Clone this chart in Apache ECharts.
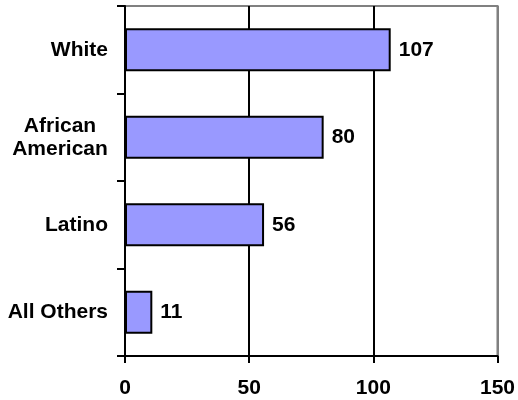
<!DOCTYPE html>
<html>
<head>
<meta charset="utf-8">
<script src="https://cdn.jsdelivr.net/npm/echarts@6/dist/echarts.min.js"></script>
<style>html,body{margin:0;padding:0;background:#fff;}#c{width:518px;height:400px;}</style>
</head>
<body>
<div id="c"></div>
<script>
var categories = ['White', 'African\nAmerican', 'Latino', 'All Others'];
var values = [107, 80, 56, 11];
var xTicks = [0, 50, 100, 150];

var chart = echarts.init(document.getElementById('c'), null, {renderer: 'canvas'});
var font = '"Liberation Sans", Arial, sans-serif';
chart.setOption({
  animation: false,
  backgroundColor: '#fff',
  grid: {left: 125, right: 20, top: 6, bottom: 44, show: true, borderColor: '#808080', borderWidth: 2, containLabel: false},
  xAxis: {
    type: 'value', min: xTicks[0], max: xTicks[xTicks.length - 1], interval: 50,
    axisLine: {show: true, lineStyle: {color: '#000', width: 2}},
    axisTick: {show: true, length: 7, lineStyle: {color: '#000', width: 2}},
    axisLabel: {margin: 22, color: '#000', fontFamily: font, fontWeight: 'bold', fontSize: 21},
    splitLine: {show: true, lineStyle: {color: ['#000', '#000', '#000', '#808080'], width: 2}}
  },
  yAxis: {
    type: 'category', data: categories, inverse: true,
    axisLine: {show: true, lineStyle: {color: '#000', width: 2}},
    axisTick: {show: true, length: 8, lineStyle: {color: '#000', width: 2}},
    axisLabel: {
      margin: 17, color: '#000', fontFamily: font, fontWeight: 'bold', fontSize: 21, lineHeight: 23,
      formatter: function (v) {
        if (v.indexOf('\n') >= 0) {
          return v.split('\n').map(function (s) { return '{c|' + s + '}'; }).join('\n');
        }
        return v;
      },
      rich: {c: {width: 96, align: 'center', fontFamily: font, fontWeight: 'bold', fontSize: 21, color: '#000', lineHeight: 23}}
    },
    splitLine: {show: false}
  },
  series: [{
    type: 'bar', data: values, barWidth: 43,
    itemStyle: {color: '#9999FF', borderColor: '#000', borderWidth: 2},
    label: {show: true, position: 'right', distance: 8, color: '#000', fontFamily: font, fontWeight: 'bold', fontSize: 21}
  }]
});
</script>
</body>
</html>
